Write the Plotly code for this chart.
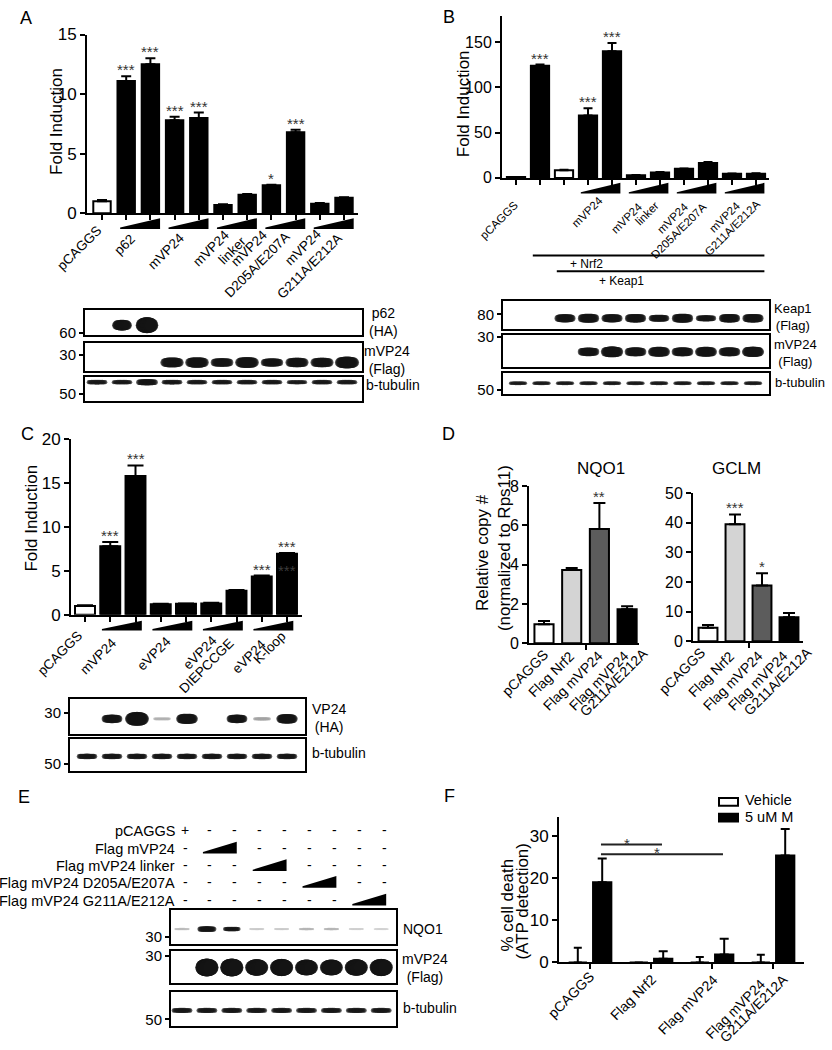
import plotly.graph_objects as go

W, H = 832, 1050
FONT = "Liberation Sans, Arial, Helvetica, sans-serif"

# ======================= DATA =======================
# Panel A - ARE luciferase, fold induction
a_groups = ["pCAGGS", "p62", "mVP24", "mVP24\nlinker", "mVP24\nD205A/E207A", "mVP24\nG211A/E212A"]
a_group_bars = [[0], [1, 2], [3, 4], [5, 6], [7, 8], [9, 10]]
a_values = [1.0, 11.1, 12.5, 7.8, 8.0, 0.7, 1.55, 2.35, 6.8, 0.8, 1.3]
a_errors = [0.12, 0.4, 0.5, 0.3, 0.45, 0.05, 0.06, 0.04, 0.2, 0.05, 0.04]
a_stars = ["", "***", "***", "***", "***", "", "", "*", "***", "", ""]
a_fill = ["white"] + ["black"] * 10
a_blot_p62 = [0, 0.6, 1.0, 0, 0, 0, 0, 0, 0, 0, 0]
a_blot_vp24 = [0, 0, 0, 0.8, 0.85, 0.65, 0.9, 0.6, 0.75, 0.75, 1.0]
a_blot_tub = [0.6, 0.55, 0.9, 0.6, 0.55, 0.55, 0.55, 0.55, 0.5, 0.55, 0.55]

# Panel B - Nrf2 + Keap1 reporter
b_groups = ["pCAGGS", "", "", "mVP24", "mVP24\nlinker", "mVP24\nD205A/E207A", "mVP24\nG211A/E212A"]
b_group_bars = [[0], [1], [2], [3, 4], [5, 6], [7, 8], [9, 10]]
b_values = [1.0, 124, 8.5, 69, 140, 3, 6, 10, 16.5, 4.5, 4.5]
b_errors = [0, 1.2, 0.5, 8, 9, 0.3, 0.4, 0.5, 1.0, 0.4, 0.5]
b_stars = ["", "***", "", "***", "***", "", "", "", "", "", ""]
b_fill = ["white", "black", "white"] + ["black"] * 8
b_treat = [("+ Nrf2", 1), ("+ Keap1", 2)]
b_blot_keap1 = [0, 0, 0.8, 0.9, 0.8, 0.85, 0.65, 0.9, 0.55, 0.85, 0.85]
b_blot_vp24 = [0, 0, 0, 0.75, 1.0, 0.8, 0.9, 0.8, 0.9, 0.8, 0.95]
b_blot_tub = [0.6] * 11

# Panel C - eVP24 constructs
c_groups = ["pCAGGS", "mVP24", "eVP24", "eVP24\nDIEPCCGE", "eVP24\nK-loop"]
c_group_bars = [[0], [1, 2], [3, 4], [5, 6], [7, 8]]
c_values = [1.0, 7.8, 15.8, 1.2, 1.25, 1.3, 2.75, 4.35, 6.95]
c_errors = [0.1, 0.5, 1.2, 0.06, 0.05, 0.08, 0.08, 0.12, 0.1]
c_stars = ["", "***", "***", "", "", "", "", "***", "***"]
c_ghost_star = (8, 5.4, "***")   # faint duplicated marker printed over the last bar
c_fill = ["white"] + ["black"] * 8
c_blot_vp24 = [0, 0.55, 1.0, 0.12, 0.7, 0, 0.55, 0.15, 0.65]
c_blot_tub = [0.6] * 9

# Panel D - qPCR
d_cats = ["pCAGGS", "Flag Nrf2", "Flag mVP24", "Flag mVP24\nG211A/E212A"]
d_fill = ["white", "#d4d4d4", "#5c5c5c", "black"]
d_nqo1 = [0.97, 3.73, 5.82, 1.73]
d_nqo1_err = [0.16, 0.1, 1.33, 0.16]
d_nqo1_stars = ["", "", "**", ""]
d_gclm = [4.6, 39.5, 18.8, 8.1]
d_gclm_err = [0.9, 3.3, 4.2, 1.5]
d_gclm_stars = ["", "***", "*", ""]

# Panel E - western blot
e_rows = ["pCAGGS", "Flag mVP24", "Flag mVP24 linker", "Flag mVP24 D205A/E207A", "Flag mVP24 G211A/E212A"]
e_signs = [
    ["+", "-", "-", "-", "-", "-", "-", "-", "-"],
    ["-", "w", "w", "-", "-", "-", "-", "-", "-"],
    ["-", "-", "-", "w", "w", "-", "-", "-", "-"],
    ["-", "-", "-", "-", "-", "w", "w", "-", "-"],
    ["-", "-", "-", "-", "-", "-", "-", "w", "w"],
]
e_blot_nqo1 = [0.1, 0.8, 0.55, 0.07, 0.07, 0.12, 0.12, 0.06, 0.05]
e_blot_vp24 = [0, 1.0, 1.0, 0.9, 0.95, 0.85, 0.85, 0.9, 0.95]
e_blot_tub = [0.65] * 9

# Panel F - cell death
f_cats = ["pCAGGS", "Flag Nrf2", "Flag mVP24", "Flag mVP24\nG211A/E212A"]
f_series = ["Vehicle", "5 uM M"]
f_vehicle = [0, 0, 0, 0]
f_vehicle_err = [3.5, 0, 1.3, 1.8]
f_drug = [19.0, 0.85, 1.9, 25.3]
f_drug_err = [5.6, 1.8, 3.7, 6.3]
f_sig = [(0, 1, "*", 27.9), (0, 2, "*", 25.6)]

# ======================= LAYOUT GEOMETRY (pixels) =======================
def px(x):
    return x / W


def py(y):
    return 1 - y / H


GA = dict(x0=87, x1=358, yt=26, yb=208, first=102, step=24.2)
GA_P62 = dict(x0=85, x1=362, yt=307, yb=332, first=97, step=25)
GA_VP = dict(x0=85, x1=362, yt=340, yb=369, first=97, step=25)
GA_TUB = dict(x0=85, x1=362, yt=375, yb=399, first=97, step=25)
GB = dict(x0=502, x1=769, yt=7, yb=172, first=516, step=24)
GB_KEAP = dict(x0=503, x1=769, yt=297, yb=326, first=518, step=23.5)
GB_VP = dict(x0=503, x1=769, yt=332, yb=365, first=518, step=23.5)
GB_TUB = dict(x0=503, x1=769, yt=371, yb=392, first=518, step=23.5)
GC = dict(x0=71, x1=302, yt=438, yb=617, first=85, step=25.25)
GC_VP = dict(x0=70, x1=305, yt=703, yb=738, first=87, step=25)
GC_TUB = dict(x0=70, x1=305, yt=743, yb=776, first=87, step=25)
GD1 = dict(x0=529, x1=639, yt=486, yb=646, first=544, step=27.7)
GD2 = dict(x0=693, x1=803, yt=493, yb=644, first=708, step=27)
GE_NQO = dict(x0=171, x1=396, yt=918, yb=952, first=182, step=24.9)
GE_VP = dict(x0=171, x1=396, yt=959, yb=992, first=182, step=24.9)
GE_TUB = dict(x0=171, x1=396, yt=1001, yb=1036, first=182, step=24.9)
GF = dict(x0=559, x1=804, yt=823, yb=971, first=590, step=61)

# Arial / Liberation Sans advance widths (1/1000 em)
CW = {" ": 278, "-": 333, "/": 278, "A": 667, "C": 722, "D": 722, "E": 667, "F": 611, "G": 778,
      "I": 278, "K": 667, "N": 722, "P": 667, "S": 667, "V": 667, "a": 556, "e": 556, "f": 278,
      "g": 556, "i": 222, "k": 500, "l": 222, "m": 833, "n": 556, "o": 556, "p": 556, "r": 333}


def text_w(s, size):
    return sum(CW.get(ch, 556) for ch in s) * size / 1000.0


fig = go.Figure()
L = dict(width=W, height=H, margin=dict(l=0, r=0, t=0, b=0, pad=0),
         paper_bgcolor="white", plot_bgcolor="rgba(0,0,0,0)", barmode="overlay",
         font=dict(family=FONT, color="black", size=14), showlegend=False)
ann = []
shp = []


def xn(i):
    return "xaxis" if i == 1 else f"xaxis{i}"


def yn(i):
    return "yaxis" if i == 1 else f"yaxis{i}"


def xr(i):
    return "x" if i == 1 else f"x{i}"


def yr(i):
    return "y" if i == 1 else f"y{i}"


AX = dict(showgrid=False, zeroline=False, linecolor="black", tickcolor="black", fixedrange=True)


def xrange_of(g):
    return [(g["x0"] - g["first"]) / g["step"], (g["x1"] - g["first"]) / g["step"]]


def bar_axes(i, g, yrange, yticks, xticks, tickfont):
    L[xn(i)] = dict(AX, domain=[px(g["x0"]), px(g["x1"])], range=xrange_of(g), anchor=yr(i),
                    showline=True, linewidth=2, ticks="outside", ticklen=5, tickwidth=2,
                    tickmode="array", tickvals=xticks, showticklabels=False)
    L[yn(i)] = dict(AX, domain=[py(g["yb"]), py(g["yt"])], range=yrange, anchor=xr(i),
                    showline=True, linewidth=2, ticks="outside", ticklen=5, tickwidth=2,
                    tickmode="array", tickvals=yticks, tickfont=dict(size=tickfont))


def blot_axes(i, g, mw, mw_frac):
    L[xn(i)] = dict(AX, domain=[px(g["x0"]), px(g["x1"])], range=xrange_of(g), anchor=yr(i),
                    showline=True, mirror=True, linewidth=2, ticks="", showticklabels=False)
    L[yn(i)] = dict(AX, domain=[py(g["yb"]), py(g["yt"])], range=[0, 1], anchor=xr(i),
                    showline=True, mirror=True, linewidth=2, ticks="outside", ticklen=4,
                    tickwidth=1.5, tickmode="array", tickvals=[mw_frac], ticktext=[mw],
                    tickfont=dict(size=15))


def add_bars(i, xs, vals, errs, fills, width, capw, name=None):
    fig.add_trace(go.Bar(
        x=xs, y=vals, width=width, name=name,
        marker=dict(color=fills, line=dict(color="black", width=2)),
        error_y=dict(type="data", symmetric=False, array=errs, arrayminus=[0] * len(errs),
                     color="black", thickness=2, width=capw),
        xaxis=xr(i), yaxis=yr(i), hoverinfo="skip"))


def add_stars(i, xs, vals, errs, marks, size=15, yshift=-4):
    for x, v, e, s in zip(xs, vals, errs, marks):
        if s:
            ann.append(dict(x=x, y=v + e, xref=xr(i), yref=yr(i), text=s, showarrow=False,
                            yanchor="bottom", yshift=yshift, font=dict(size=size, color="#333")))


def add_wedges(i, group_bars, lpad, rpad, ybot, ytop):
    for bars in group_bars:
        if len(bars) == 2:
            a, b = bars
            xl, xrt = a - lpad, b + rpad
            shp.append(dict(type="path", xref=xr(i), yref="paper", layer="above",
                            path=f"M{xl},{py(ybot)} L{xrt},{py(ybot)} L{xrt},{py(ytop)} L{xl},{py(ybot - 1.5)} Z",
                            fillcolor="black", line=dict(width=0)))


def rot_labels(groups, positions, size):
    # positions = (rightmost glyph x, topmost glyph y) of each rotated line
    lines = [ln for g in groups for ln in g.split("\n") if ln]
    for t, (rx, ty) in zip(lines, positions):
        w = text_w(t, size)
        cx = rx - 0.7071 * (w / 2 + 0.35 * size)
        cy = ty + 0.7071 * (w / 2 + 0.37 * size)
        ann.append(dict(text=t, x=px(cx), y=py(cy), xref="paper", yref="paper",
                        xanchor="center", yanchor="middle", textangle=-45, showarrow=False,
                        font=dict(size=size)))


def add_bands(i, intens, g, yfrac, wmin, wmax, tmin, tmax):
    xs, ys, ss, cs = [], [], [], []
    n = 13
    for lane, v in enumerate(intens):
        if v <= 0:
            continue
        t = tmin + (tmax - tmin) * v
        w = wmin + (wmax - wmin) * v
        half = max(0.0, (w - t) / 2) / g["step"]
        gray = int(round(20 + 200 * max(0.0, 1 - v / 0.5)))
        col = f"rgb({gray},{gray},{gray})"
        for k in range(n):
            u = -1 + 2 * k / (n - 1)
            xs.append(lane + u * half)
            ys.append(yfrac)
            ss.append(t * (1 - 0.15 * u * u))
            cs.append(col)
    fig.add_trace(go.Scatter(x=xs, y=ys, mode="markers", hoverinfo="skip",
                             marker=dict(size=ss, color=cs, line=dict(width=0)),
                             xaxis=xr(i), yaxis=yr(i)))


def text(t, x, y, size, xanchor="center", angle=0, align="center"):
    ann.append(dict(text=t, x=px(x), y=py(y), xref="paper", yref="paper", showarrow=False,
                    xanchor=xanchor, yanchor="middle", textangle=angle, align=align,
                    font=dict(size=size)))


# ======================= PANEL A =======================
bar_axes(1, GA, [0, 15], [0, 5, 10, 15], list(range(11)), 17)
add_bars(1, list(range(11)), a_values, a_errors, a_fill, 0.72, 5)
add_stars(1, list(range(11)), a_values, a_errors, a_stars)
add_wedges(1, a_group_bars, 0.25, 0.4, 224, 213)
rot_labels(a_groups, [(102, 220), (136, 228), (185, 228), (230, 225), (247, 231),
                      (268, 225), (291, 226), (322, 224), (343, 228)], 13.5)
text("Fold Induction", 57, 115, 17, angle=-90)
text("A", 26, 9, 18)
blot_axes(2, GA_P62, "60", 0.08)
add_bands(2, a_blot_p62, GA_P62, 0.4, 16, 25, 3, 16)
blot_axes(3, GA_VP, "30", 0.59)
add_bands(3, a_blot_vp24, GA_VP, 0.31, 20, 26, 3, 12)
blot_axes(4, GA_TUB, "50", 0.29)
add_bands(4, a_blot_tub, GA_TUB, 0.79, 19, 23, 2, 7)
text("p62<br>(HA)", 367, 319, 14, xanchor="left")
text("mVP24<br>(Flag)", 362, 357, 14, xanchor="left")
text("b-tubulin", 364, 383, 14, xanchor="left")

# ======================= PANEL B =======================
bar_axes(5, GB, [0, 179], [0, 50, 100, 150], list(range(11)), 16)
add_bars(5, list(range(11)), b_values, b_errors, b_fill, 0.76, 4.5)
add_stars(5, list(range(11)), b_values, b_errors, b_stars)
add_wedges(5, b_group_bars, 0.3, 0.35, 188, 177)
rot_labels(b_groups, [(519, 195), (603, 190), (643, 197), (660, 195), (689, 197),
                      (707, 197), (741, 196), (761, 194)], 11.5)
text("Fold Induction", 463, 97, 17, angle=-90)
text("B", 449, 8, 18)
for (lbl, start), (ly, tx, ty) in zip(b_treat, [(251, 586, 260), (267, 621, 277)]):
    shp.append(dict(type="line", xref=xr(5), yref="paper", x0=start - 0.3, x1=len(b_values) - 1 + 0.35,
                    y0=py(ly), y1=py(ly), line=dict(color="black", width=2)))
    text(lbl, tx, ty, 12)
blot_axes(6, GB_KEAP, "80", 0.52)
add_bands(6, b_blot_keap1, GB_KEAP, 0.38, 19, 23, 2, 10)
blot_axes(7, GB_VP, "30", 0.95)
add_bands(7, b_blot_vp24, GB_VP, 0.48, 19, 24, 2, 11)
blot_axes(8, GB_TUB, "50", 0.19)
add_bands(8, b_blot_tub, GB_TUB, 0.52, 17, 20, 1, 6)
text("Keap1<br>(Flag)", 772, 314, 13, xanchor="left")
text("mVP24<br>(Flag)", 772, 350, 13, xanchor="left")
text("b-tubulin", 773, 380, 13, xanchor="left")

# ======================= PANEL C =======================
bar_axes(9, GC, [0, 20], [0, 5, 10, 15, 20], list(range(9)), 17)
add_bars(9, list(range(9)), c_values, c_errors, c_fill, 0.79, 8)
add_stars(9, list(range(9)), c_values, c_errors, c_stars)
gx, gy, gs = c_ghost_star
ann.append(dict(x=gx, y=gy, xref=xr(9), yref=yr(9), text=gs, showarrow=False, yanchor="middle",
                yshift=-3, font=dict(size=15, color="#3c3c3c")))
add_wedges(9, c_group_bars, 0.33, 0.25, 633, 623)
rot_labels(c_groups, [(83, 633), (117, 640), (172, 639), (218, 638), (235, 640),
                      (267, 642), (287, 633)], 13.5)
text("Fold Induction", 32, 519, 17, angle=-90)
text("C", 27, 433, 18)
blot_axes(10, GC_VP, "30", 0.6)
add_bands(10, c_blot_vp24, GC_VP, 0.43, 17, 26, 2, 14)
blot_axes(11, GC_TUB, "50", 0.21)
add_bands(11, c_blot_tub, GC_TUB, 0.45, 19, 23, 2, 8)
text("VP24<br>(HA)", 310, 722, 14, xanchor="left")
text("b-tubulin", 310, 758, 14, xanchor="left")

# ======================= PANEL D =======================
bar_axes(12, GD1, [0, 8], [0, 2, 4, 6, 8], [1.5], 16)
add_bars(12, list(range(4)), d_nqo1, d_nqo1_err, d_fill, 0.69, 6)
add_stars(12, list(range(4)), d_nqo1, d_nqo1_err, d_nqo1_stars)
bar_axes(13, GD2, [0, 50], [0, 10, 20, 30, 40, 50], [1.5], 16)
add_bars(13, list(range(4)), d_gclm, d_gclm_err, d_fill, 0.7, 6)
add_stars(13, list(range(4)), d_gclm, d_gclm_err, d_gclm_stars)
rot_labels(d_cats, [(549, 652), (575, 653), (603, 653), (629, 653), (649, 650)], 14)
rot_labels(d_cats, [(706, 650), (735, 653), (763, 653), (788, 653), (813, 649)], 14)
text("NQO1", 601, 468, 17)
text("GCLM", 736, 468, 17)
text("Relative copy #", 483, 554, 17, angle=-90)
text("(normalized to Rps11)", 504, 549, 17, angle=-90)
text("D", 448, 433, 18)

# ======================= PANEL E =======================
e_row_y = [837, 855, 873, 890, 908]
for r, (row, ry) in enumerate(zip(e_rows, e_row_y)):
    ann.append(dict(text=row, x=px(177), y=py(ry), xref="paper", yref="paper", xanchor="right",
                    yanchor="middle", showarrow=False, font=dict(size=14.5)))
    signs = e_signs[r]
    for lane, s in enumerate(signs):
        if s in "+-":
            ann.append(dict(text=s, x=lane, y=py(ry - 1), xref=xr(14), yref="paper", xshift=3,
                            xanchor="center", yanchor="middle", showarrow=False, font=dict(size=14)))
    wl = [k for k, s in enumerate(signs) if s == "w"]
    if wl:
        xl, xrt = wl[0] - 0.16, wl[-1] + 0.2
        shp.append(dict(type="path", xref=xr(14), yref="paper", layer="above",
                        path=f"M{xl},{py(ry + 5)} L{xrt},{py(ry + 5)} L{xrt},{py(ry - 7)} L{xl},{py(ry + 3.5)} Z",
                        fillcolor="black", line=dict(width=0)))
blot_axes(14, GE_NQO, "30", 0.21)
add_bands(14, e_blot_nqo1, GE_NQO, 0.44, 15, 21, 2, 7)
blot_axes(15, GE_VP, "30", 0.85)
add_bands(15, e_blot_vp24, GE_VP, 0.48, 22, 26, 4, 18)
blot_axes(16, GE_TUB, "50", 0.2)
add_bands(16, e_blot_tub, GE_TUB, 0.46, 19, 23, 2, 7)
text("NQO1", 401, 937, 14, xanchor="left")
text("mVP24<br>(Flag)", 400, 977, 14, xanchor="left")
text("b-tubulin", 401, 1017, 14, xanchor="left")
text("E", 24, 803, 18)

# ======================= PANEL F =======================
bar_axes(17, GF, [0, 34.4], [0, 10, 20, 30], list(range(4)), 17)
fx = list(range(4))
add_bars(17, [g - 0.2 for g in fx], f_vehicle, f_vehicle_err, "white", 0.3, 4, name=f_series[0])
add_bars(17, [g + 0.2 for g in fx], f_drug, f_drug_err, "black", 0.3, 4.5, name=f_series[1])
for a, b, s, yv in f_sig:
    fig.add_trace(go.Scatter(x=[a + 0.18, b + 0.18], y=[yv, yv], mode="lines",
                             hoverinfo="skip", line=dict(color="#222", width=2),
                             xaxis=xr(17), yaxis=yr(17)))
    ann.append(dict(x=(a + b) / 2 + 0.1, y=yv, xref=xr(17), yref=yr(17), text=s, showarrow=False,
                    yanchor="bottom", yshift=-9, font=dict(size=15, color="#333")))
rot_labels(f_cats, [(595, 980), (657, 982), (718, 983), (766, 988), (789, 982)], 14)
text("% cell death", 507, 913, 17, angle=-90)
text("(ATP detection)", 523, 909, 17, angle=-90)
text("F", 449, 802, 18)
# legend key (drawn as swatches + labels)
for name, fill, (sy, ty) in zip(f_series, ["white", "black"], [(807.5, 806), (823.5, 823)]):
    shp.append(dict(type="rect", xref="paper", yref="paper", x0=px(719), x1=px(738),
                    y0=py(sy + 4), y1=py(sy - 4), fillcolor=fill, line=dict(color="black", width=2)))
    text(name, 743, ty, 14.5, xanchor="left")

L["annotations"] = ann
L["shapes"] = shp
fig.update_layout(L)
fig.write_html(
    "out.html",
    config={"displayModeBar": False},
    post_script="document.documentElement.style.margin='0';document.body.style.margin='0';"
                "document.body.style.padding='0';document.body.style.overflow='hidden';",
)
